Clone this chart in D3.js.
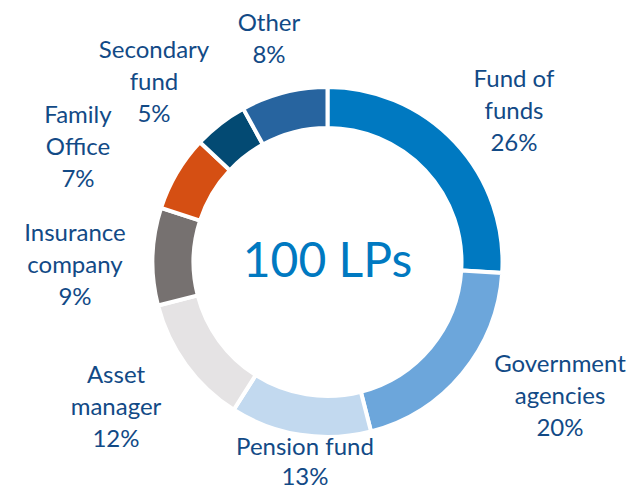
<!DOCTYPE html>
<html>
<head>
<meta charset="utf-8">
<script src="https://cdn.jsdelivr.net/npm/d3@7"></script>
<style>
  body { margin: 0; background: #fff; }
  svg { display: block; font-family: "Lato", sans-serif; }
  .lbl { fill: #124a86; font-size: 24px; }
  .center { fill: #0079c1; font-size: 48px; }
</style>
</head>
<body>
<svg width="637" height="491"></svg>
<script>
// LP types, clockwise from 12 o'clock
var categories = ["Fund of funds", "Government agencies", "Pension fund", "Asset manager",
                  "Insurance company", "Family Office", "Secondary fund", "Other"];
var shares = [26, 20, 13, 12, 9, 7, 5, 8];
var colors = ["#0079c1", "#6ca6db", "#c2d9ef", "#e5e3e4", "#767170", "#d54f13", "#034a73", "#27649f"];

// label lines and where they sit (center x, first baseline)
var labelLines = [
  ["Fund of", "funds", "26%"],
  ["Government", "agencies", "20%"],
  ["Pension fund", "13%"],
  ["Asset", "manager", "12%"],
  ["Insurance", "company", "9%"],
  ["Family", "Office", "7%"],
  ["Secondary", "fund", "5%"],
  ["Other", "8%"]
];
var labelPos = [[514, 87], [560, 372], [305, 455], [116, 383], [75, 241], [78, 123], [154, 58], [269, 31]];

var svg = d3.select("svg"),
    cx = 327.5, cy = 262,
    outerR = 175, innerR = 134,
    lineH = 32;

var g = svg.append("g").attr("transform", "translate(" + cx + "," + cy + ")");

var pie = d3.pie().sort(null).value(function(d) { return d; });
var arc = d3.arc().innerRadius(innerR).outerRadius(outerR);

g.selectAll("path")
  .data(pie(shares))
  .enter().append("path")
    .attr("d", arc)
    .attr("fill", function(d, i) { return colors[i]; })
    .attr("stroke", "#fff")
    .attr("stroke-width", 4);

g.append("text")
  .attr("class", "center")
  .attr("text-anchor", "middle")
  .attr("y", 277 - cy)
  .text("100 LPs");

var labels = svg.selectAll("text.lbl")
  .data(categories)
  .enter().append("text")
    .attr("class", "lbl")
    .attr("text-anchor", "middle")
    .attr("x", function(d, i) { return labelPos[i][0]; })
    .attr("y", function(d, i) { return labelPos[i][1]; });

// last line of pension label sits close to the bottom edge
labels.selectAll("tspan")
  .data(function(d, i) { return labelLines[i].map(function(t) { return {t: t, x: labelPos[i][0], last: i === 2}; }); })
  .enter().append("tspan")
    .attr("x", function(d) { return d.x; })
    .attr("dy", function(d, j) { return j ? (d.last ? 30 : lineH) : 0; })
    .text(function(d) { return d.t; });
</script>
</body>
</html>
